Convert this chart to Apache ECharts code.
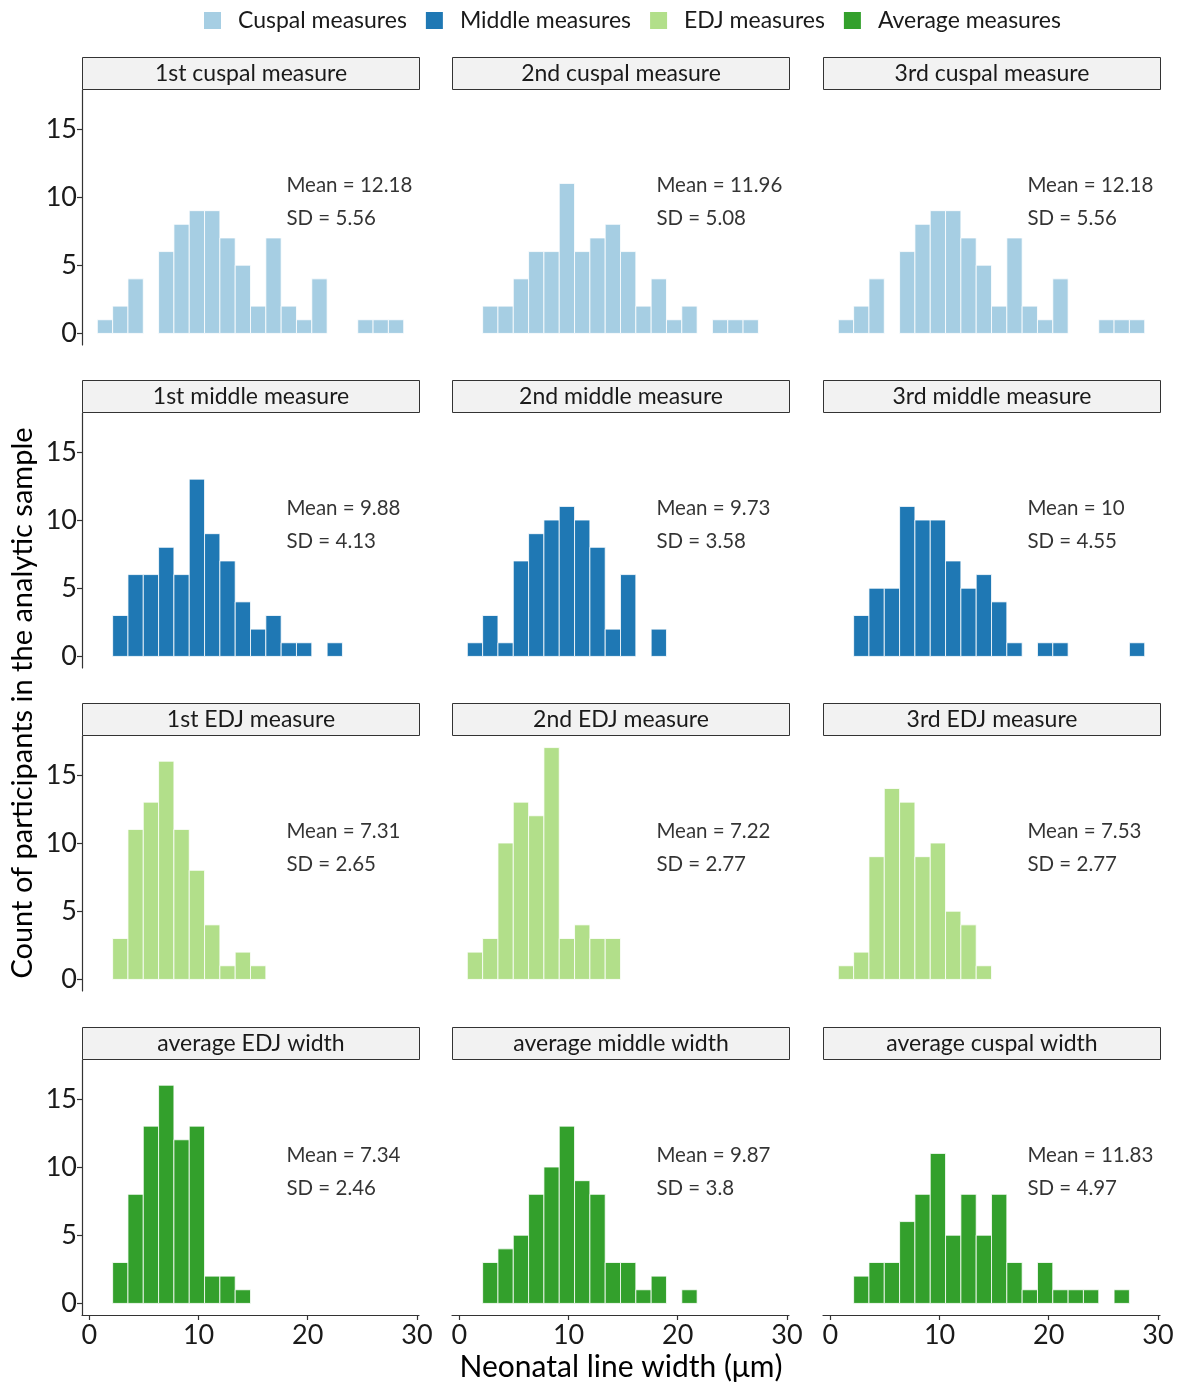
<!DOCTYPE html>
<html>
<head>
<meta charset="utf-8">
<script src="https://cdn.jsdelivr.net/npm/echarts@6/dist/echarts.min.js"></script>
<style>
  html, body { margin: 0; padding: 0; background: #ffffff; }
  #chart { width: 1182px; height: 1386px; }
</style>
</head>
<body>
<div id="chart"></div>
<script>
// Shared histogram bins (same breaks in every facet)
const binStart = 0.73;
const binWidth = 1.403;

// Counts per bin, one array per facet
const cuspal1   = [1, 2, 4, 0, 6, 8, 9, 9, 7, 5, 2, 7, 2, 1, 4, 0, 0, 1, 1, 1];
const cuspal2   = [0, 2, 2, 4, 6, 6, 11, 6, 7, 8, 6, 2, 4, 1, 2, 0, 1, 1, 1, 0];
const cuspal3   = [1, 2, 4, 0, 6, 8, 9, 9, 7, 5, 2, 7, 2, 1, 4, 0, 0, 1, 1, 1];
const middle1   = [0, 3, 6, 6, 8, 6, 13, 9, 7, 4, 2, 3, 1, 1, 0, 1];
const middle2   = [1, 3, 1, 7, 9, 10, 11, 10, 8, 2, 6, 0, 2];
const middle3   = [0, 3, 5, 5, 11, 10, 10, 7, 5, 6, 4, 1, 0, 1, 1, 0, 0, 0, 0, 1];
const edj1      = [0, 3, 11, 13, 16, 11, 8, 4, 1, 2, 1];
const edj2      = [2, 3, 10, 13, 12, 17, 3, 4, 3, 3];
const edj3      = [1, 2, 9, 14, 13, 9, 10, 5, 4, 1];
const avgEdj    = [0, 3, 8, 13, 16, 12, 13, 2, 2, 1];
const avgMiddle = [0, 3, 4, 5, 8, 10, 13, 9, 8, 3, 3, 1, 2, 0, 1];
const avgCuspal = [0, 2, 3, 3, 6, 8, 11, 5, 8, 5, 8, 3, 1, 3, 1, 1, 1, 0, 1];

// Facet titles, groups and summary statistics
const facetTitles = [
  '1st cuspal measure', '2nd cuspal measure', '3rd cuspal measure',
  '1st middle measure', '2nd middle measure', '3rd middle measure',
  '1st EDJ measure', '2nd EDJ measure', '3rd EDJ measure',
  'average EDJ width', 'average middle width', 'average cuspal width'
];
const facetCounts = [cuspal1, cuspal2, cuspal3, middle1, middle2, middle3,
                     edj1, edj2, edj3, avgEdj, avgMiddle, avgCuspal];
const groupNames = ['Cuspal measures', 'Middle measures', 'EDJ measures', 'Average measures'];
const facetGroup = [0, 0, 0, 1, 1, 1, 2, 2, 2, 3, 3, 3];
const meanLabels = ['12.18', '11.96', '12.18', '9.88', '9.73', '10',
                    '7.31', '7.22', '7.53', '7.34', '9.87', '11.83'];
const sdLabels   = ['5.56', '5.08', '5.56', '4.13', '3.58', '4.55',
                    '2.65', '2.77', '2.77', '2.46', '3.8', '4.97'];
const xTicks = [0, 10, 20, 30];
const yTicks = [0, 5, 10, 15];

const groupColors = ['#a6cee3', '#1f78b4', '#b2df8a', '#33a02c'];
const FONT = 'Lato';

// Panel geometry
const colLeft = [82, 452, 823];
const rowTop = [90, 413, 736, 1060];
const panelW = 337, panelH = 255;
const xMin = -0.673, xMax = 30.19;
const yMin = -0.85, yMax = 17.85;

const grids = [], xAxes = [], yAxes = [], series = [], graphics = [];

facetCounts.forEach((counts, k) => {
  const r = Math.floor(k / 3), c = k % 3;
  const left = colLeft[c], top = rowTop[r];
  grids.push({ left: left, top: top, width: panelW, height: panelH, containLabel: false });

  const bottomRow = r === 3;
  xAxes.push({
    type: 'value', gridIndex: k, min: xMin, max: xMax,
    splitLine: { show: false },
    axisLine: { show: bottomRow, onZero: false, lineStyle: { color: '#333333', width: 1.2 } },
    axisTick: { show: bottomRow, customValues: xTicks, length: 5, lineStyle: { color: '#333333', width: 1.2 } },
    axisLabel: { show: bottomRow, customValues: xTicks, fontFamily: FONT, fontSize: 27, color: '#1a1a1a', margin: 7 }
  });
  const leftCol = c === 0;
  yAxes.push({
    type: 'value', gridIndex: k, min: yMin, max: yMax,
    splitLine: { show: false },
    axisLine: { show: leftCol, onZero: false, lineStyle: { color: '#333333', width: 1.2 } },
    axisTick: { show: leftCol, customValues: yTicks, length: 5, lineStyle: { color: '#333333', width: 1.2 } },
    axisLabel: { show: leftCol, customValues: yTicks, fontFamily: FONT, fontSize: 27, color: '#1a1a1a', margin: 5 }
  });

  const g = facetGroup[k];
  const bins = [];
  counts.forEach((n, i) => {
    if (n > 0) bins.push([binStart + i * binWidth, binStart + (i + 1) * binWidth, n]);
  });
  series.push({
    type: 'custom', name: groupNames[g], xAxisIndex: k, yAxisIndex: k,
    itemStyle: { color: groupColors[g] },
    data: bins,
    renderItem: function (params, api) {
      const p0 = api.coord([api.value(0), api.value(2)]);
      const p1 = api.coord([api.value(1), 0]);
      return {
        type: 'rect',
        shape: { x: p0[0], y: p0[1], width: p1[0] - p0[0], height: p1[1] - p0[1] },
        style: { fill: groupColors[g], stroke: '#ffffff', lineWidth: 0.8 }
      };
    }
  });

  // Mean / SD annotation
  series.push({
    type: 'scatter', xAxisIndex: k, yAxisIndex: k, silent: true,
    symbolSize: 1, itemStyle: { color: 'transparent' },
    label: {
      show: true, position: 'right', distance: 0,
      formatter: p => p.name,
      fontFamily: FONT, fontSize: 20.5, color: '#000000'
    },
    data: [
      { name: 'Mean = ' + meanLabels[k], value: [18, 10.85] },
      { name: 'SD = ' + sdLabels[k], value: [18, 8.45] }
    ]
  });

  // Facet strip
  graphics.push({
    type: 'group', left: left, top: top - 33,
    children: [
      { type: 'rect', shape: { x: 0, y: 0, width: panelW, height: 32 },
        style: { fill: '#f2f2f2', stroke: '#333333', lineWidth: 1 } },
      { type: 'text', x: panelW / 2, y: 16.5,
        style: { text: facetTitles[k], fontFamily: FONT, fontSize: 23, fill: '#1a1a1a',
                 align: 'center', verticalAlign: 'middle' } }
    ]
  });
});

// Axis titles
graphics.push({
  type: 'text', x: 621, y: 1367,
  style: { text: 'Neonatal line width (μm)', fontFamily: FONT, fontSize: 30, fill: '#000000',
           align: 'center', verticalAlign: 'middle' }
});
graphics.push({
  type: 'text', x: 23, y: 703, rotation: Math.PI / 2,
  style: { text: 'Count of participants in the analytic sample', fontFamily: FONT, fontSize: 29,
           fill: '#000000', align: 'center', verticalAlign: 'middle' }
});

const chart = echarts.init(document.getElementById('chart'), null, { renderer: 'canvas' });
chart.setOption({
  animation: false,
  backgroundColor: '#ffffff',
  legend: {
    data: groupNames, top: 4, left: 199,
    icon: 'rect', itemWidth: 17, itemHeight: 17, itemGap: 19,
    textStyle: { fontFamily: FONT, fontSize: 23, color: '#1a1a1a', padding: [0, 0, 0, 12] }
  },
  grid: grids,
  xAxis: xAxes,
  yAxis: yAxes,
  series: series,
  graphic: graphics
});
</script>
</body>
</html>
